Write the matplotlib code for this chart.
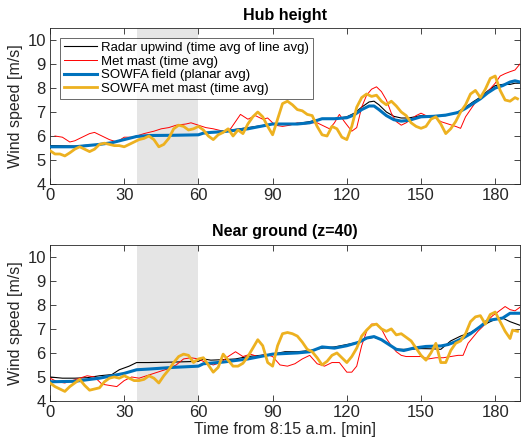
import numpy as np
import matplotlib
matplotlib.use('Agg')
import matplotlib.pyplot as plt

plt.rcParams['font.family'] = ['Liberation Sans', 'DejaVu Sans']

# ---- Hub height ----
t_radar_hub = [0, 10, 20, 25, 30, 35, 40, 50, 60, 62, 65, 70, 80, 90, 100, 105, 110, 115, 120, 123, 126, 129, 131,
               133, 136, 139, 142, 145, 150, 155, 160, 165, 168, 171, 174, 177, 180, 183, 186, 188, 190]
radar_hub = [5.6, 5.58, 5.65, 5.72, 5.85, 5.98, 6.02, 6.03, 6.05, 6.12, 6.15, 6.2, 6.35, 6.5, 6.52, 6.6, 6.72, 6.72,
             6.8, 6.95, 7.2, 7.42, 7.45, 7.3, 7.0, 6.82, 6.75, 6.75, 6.85, 6.82, 6.85, 7.0, 7.2, 7.42, 7.62, 7.88,
             8.1, 8.15, 8.15, 8.2, 8.2]

t_field_hub = [0, 10, 20, 25, 30, 35, 40, 50, 60, 62, 65, 70, 80, 90, 100, 105, 110, 115, 120, 123, 126, 129, 131,
               133, 136, 139, 142, 145, 150, 155, 160, 165, 168, 171, 174, 177, 180, 183, 186, 188, 190]
field_hub = [5.55, 5.55, 5.65, 5.72, 5.85, 5.98, 6.02, 6.03, 6.05, 6.12, 6.15, 6.18, 6.3, 6.5, 6.5, 6.55, 6.72, 6.72,
             6.76, 6.88, 7.1, 7.25, 7.25, 7.1, 6.85, 6.68, 6.62, 6.65, 6.8, 6.82, 6.87, 6.98, 7.15, 7.35, 7.55, 7.8,
             8.0, 8.1, 8.25, 8.3, 8.25]

t_mast_hub = [2, 5, 8, 10, 13, 16, 18, 20, 22, 24, 27, 30, 33, 35, 38, 42, 45, 48, 51, 55, 57, 60, 63, 66, 70, 73,
              75, 77, 80, 83, 86, 88, 91, 94, 97, 100, 103, 106, 108, 111, 113, 115, 117, 119, 122, 124, 126, 128,
              130, 132, 134, 136, 138, 140, 142, 144, 146, 148, 150, 153, 156, 158, 161, 164, 166, 168, 170, 172,
              174, 177, 180, 182, 184, 186, 188, 190]
mast_hub = [6.0, 5.95, 5.75, 5.8, 5.95, 6.1, 6.15, 6.05, 5.95, 5.85, 5.75, 5.95, 5.95, 6.0, 6.1, 6.2, 6.3, 6.35, 6.45,
            6.5, 6.55, 6.45, 6.35, 6.3, 6.2, 6.3, 6.6, 6.9, 6.7, 6.85, 6.7, 6.75, 6.45, 6.4, 6.45, 6.55, 6.5, 6.55,
            6.55, 6.4, 6.3, 6.55, 6.9, 6.6, 6.2, 6.35, 7.2, 7.7, 7.95, 8.05, 7.85, 7.5, 6.95, 6.6, 6.45, 6.55, 6.7,
            6.85, 6.95, 6.8, 6.75, 6.6, 6.5, 6.4, 6.32, 6.8, 7.1, 7.4, 7.55, 7.85, 8.2, 8.5, 8.6, 8.68, 8.75, 9.0]

t_sim_mast_hub = list(range(0, 190, 2)) + [189]
sim_mast_hub = [5.39, 5.25, 5.25, 5.17, 5.3, 5.45, 5.55, 5.45, 5.35, 5.45, 5.65, 5.7, 5.65, 5.6, 5.6, 5.55, 5.65,
                5.75, 5.85, 5.9, 6.0, 5.85, 5.55, 5.65, 5.9, 6.3, 6.45, 6.4, 6.25, 6.3, 6.4, 6.25, 6.0, 5.85, 6.05,
                6.15, 6.3, 6.0, 6.25, 6.1, 6.5, 6.8, 7.0, 6.8, 6.4, 6.05, 6.7, 7.35, 7.45, 7.3, 7.1, 7.05, 6.9, 6.85,
                6.4, 6.05, 6.0, 6.4, 6.3, 5.95, 5.85, 6.4, 7.2, 7.6, 7.75, 7.65, 7.7, 7.45, 7.3, 7.45, 7.25, 7.0,
                6.85, 6.55, 6.4, 6.32, 6.4, 6.7, 6.8, 6.5, 6.1, 6.3, 6.6, 7.0, 7.3, 7.75, 7.9, 7.6, 7.95, 8.4, 8.5,
                7.9, 7.5, 7.45, 7.6, 7.55]

# ---- Near ground ----
t_radar_gnd = [0, 5, 10, 15, 20, 25, 28, 32, 35, 40, 50, 60, 62, 65, 70, 75, 80, 85, 90, 95, 100, 105, 110, 115,
               120, 125, 128, 131, 134, 137, 140, 145, 150, 155, 158, 162, 166, 170, 175, 180, 183, 186, 190]
radar_gnd = [5.0, 4.95, 4.95, 4.97, 5.05, 5.1, 5.3, 5.45, 5.6, 5.6, 5.62, 5.65, 5.75, 5.7, 5.72, 5.75, 5.85, 5.9,
             5.95, 6.05, 6.05, 6.1, 6.2, 6.25, 6.35, 6.45, 6.6, 6.65, 6.55, 6.35, 6.15, 6.15, 6.18, 6.17, 6.15, 6.5,
             6.7, 6.85, 7.15, 7.4, 7.45, 7.3, 7.15]

t_field_gnd = [0, 10, 20, 30, 35, 40, 50, 60, 62, 70, 80, 90, 100, 105, 110, 115, 120, 125, 128, 131, 134, 137,
               140, 143, 147, 152, 158, 161, 164, 167, 170, 174, 177, 180, 183, 186, 190]
field_gnd = [4.8, 4.82, 4.95, 5.15, 5.3, 5.33, 5.4, 5.45, 5.55, 5.62, 5.75, 5.95, 6.0, 6.05, 6.25, 6.2, 6.3, 6.45,
             6.62, 6.68, 6.55, 6.35, 6.15, 6.1, 6.2, 6.27, 6.29, 6.35, 6.47, 6.62, 6.8, 7.1, 7.35, 7.4, 7.45, 7.65,
             7.65]

t_mast_gnd = [0, 3, 6, 9, 12, 15, 18, 21, 24, 27, 30, 33, 36, 39, 42, 45, 48, 51, 54, 57, 60, 63, 66, 69, 72, 75,
              78, 81, 84, 87, 90, 93, 96, 99, 102, 105, 108, 111, 114, 117, 120, 122, 124, 126, 128, 130, 132, 134,
              136, 138, 140, 142, 144, 147, 150, 153, 156, 159, 162, 165, 167, 169, 171, 173, 175, 177, 179, 181,
              184, 186, 188, 190]
mast_gnd = [4.95, 4.8, 4.75, 4.85, 4.95, 5.05, 5.0, 4.7, 4.65, 4.6, 4.85, 5.0, 4.95, 5.05, 5.15, 5.25, 5.35, 5.5,
            5.75, 5.8, 5.75, 5.6, 5.5, 5.6, 5.85, 6.05, 5.85, 5.95, 5.85, 5.95, 5.85, 5.5, 5.45, 5.55, 5.75, 5.9,
            5.55, 5.45, 5.6, 5.6, 5.2, 5.2, 5.45, 6.3, 6.9, 7.2, 7.2, 7.0, 6.6, 6.3, 6.05, 5.9, 5.85, 5.85, 5.85,
            5.75, 5.8, 5.8, 5.85, 5.9, 5.9, 6.4, 6.65, 6.9, 7.1, 7.35, 7.55, 7.7, 7.93, 7.8, 7.75, 7.9]

t_sim_mast_gnd = list(range(0, 188, 2)) + [187, 189]
sim_mast_gnd = [4.75, 4.6, 4.5, 4.4, 4.6, 4.75, 4.9, 4.65, 4.45, 4.5, 4.55, 4.8, 4.95, 5.0, 4.95, 5.05, 4.95, 4.85,
                4.85, 4.9, 5.05, 4.95, 4.75, 5.05, 5.3, 5.6, 5.85, 5.95, 5.9, 5.6, 5.75, 5.8, 5.5, 5.2, 5.4, 5.95,
                5.7, 5.45, 5.45, 5.57, 5.85, 6.2, 6.55, 6.3, 5.6, 5.45, 6.3, 6.8, 6.85, 6.8, 6.7, 6.45, 6.15, 6.05,
                5.8, 5.5, 5.65, 5.9, 6.0, 5.8, 5.6, 5.85, 6.2, 6.7, 6.95, 7.15, 7.2, 7.0, 6.9, 7.0, 6.75, 6.8, 6.65,
                6.5, 6.2, 5.9, 5.7, 6.0, 6.4, 5.6, 5.6, 6.1, 6.4, 6.5, 6.8, 7.3, 7.5, 7.55, 7.2, 7.6, 7.7, 7.3, 6.9,
                6.6, 6.95, 6.9]

labels = ['Radar upwind (time avg of line avg)', 'Met mast (time avg)',
          'SOWFA field (planar avg)', 'SOWFA met mast (time avg)']
xticks = [0, 30, 60, 90, 120, 150, 180]
yticks = [4, 5, 6, 7, 8, 9, 10]
shade = (35, 60)

blue = '#0072BD'
yellow = '#EDB120'
tick_col = '#262626'

fig = plt.figure(figsize=(5.21, 4.44), dpi=100)
ax1 = fig.add_axes([0.096, 0.5856, 0.902, 0.3513])
ax2 = fig.add_axes([0.096, 0.0968, 0.902, 0.352])


def draw_panel(ax, series, title):
    ax.axvspan(shade[0], shade[1], color='#e5e5e5', lw=0, zorder=0)
    (tr, r), (tm, m), (tf, f), (ts, s) = series
    l1, = ax.plot(tr, r, color='k', lw=0.8, zorder=2)
    l2, = ax.plot(tm, m, color='r', lw=0.7, zorder=3)
    l3, = ax.plot(tf, f, color=blue, lw=2.2, zorder=4)
    l4, = ax.plot(ts, s, color=yellow, lw=2.0, zorder=5)
    ax.set_xlim(0, 190)
    ax.set_ylim(4, 10.5)
    ax.set_xticks(xticks)
    ax.set_yticks(yticks)
    ax.tick_params(direction='in', top=True, right=True, length=4.5, width=0.6,
                   labelsize=12, colors=tick_col, pad=3)
    for sp in ax.spines.values():
        sp.set_linewidth(0.6)
        sp.set_color(tick_col)
    ax.set_ylabel('Wind speed [m/s]', fontsize=11.5, color=tick_col, labelpad=3)
    ax.set_title(title, fontsize=11.5, fontweight='bold', pad=6)
    return [l1, l2, l3, l4]


lines = draw_panel(ax1, [(t_radar_hub, radar_hub), (t_mast_hub, mast_hub),
                         (t_field_hub, field_hub), (t_sim_mast_hub, sim_mast_hub)], 'Hub height')
draw_panel(ax2, [(t_radar_gnd, radar_gnd), (t_mast_gnd, mast_gnd),
                 (t_field_gnd, field_gnd), (t_sim_mast_gnd, sim_mast_gnd)], 'Near ground (z=40)')

leg = ax1.legend(lines, labels, loc='upper left', fontsize=9.5, frameon=True, fancybox=False,
                 edgecolor=tick_col, borderpad=0.3, labelspacing=0.1, handlelength=2.5,
                 handletextpad=0.35, borderaxespad=0.75)
leg.get_frame().set_linewidth(0.6)
leg.set_zorder(10)

ax2.set_xlabel('Time from 8:15 a.m. [min]', fontsize=11.5, color=tick_col, labelpad=1)

fig.savefig('out.png', dpi=100)
